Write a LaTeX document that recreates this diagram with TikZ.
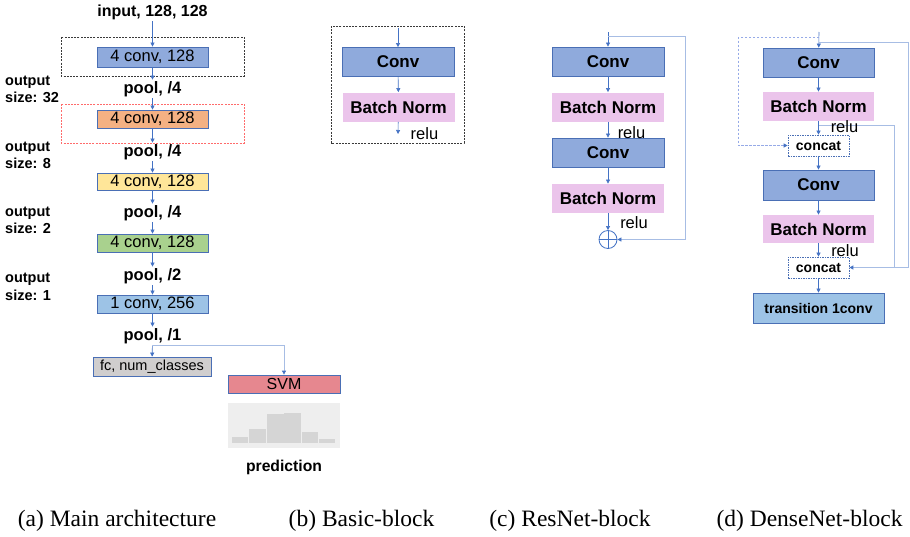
\documentclass[tikz,border=0pt]{standalone}
\usepackage{fontspec}
\setmainfont{Liberation Serif}
\newfontfamily\arialf{Liberation Sans}
\usetikzlibrary{arrows.meta,calc}
\definecolor{lb}{HTML}{4472C4}
\definecolor{lsk}{HTML}{A7BDE4}
\definecolor{bd}{HTML}{4A6FB5}
\definecolor{cblue}{HTML}{8FAADC}
\definecolor{corange}{HTML}{F4B183}
\definecolor{cyellow}{HTML}{FFE699}
\definecolor{cgreen}{HTML}{A9D18E}
\definecolor{clblue}{HTML}{9DC3E6}
\definecolor{cgray}{HTML}{D0CECE}
\definecolor{csvm}{HTML}{E6878F}
\definecolor{cpink}{HTML}{EBC4EB}
\definecolor{cdash}{HTML}{3A3A3A}
\definecolor{cred}{HTML}{FF6B6B}
\newcommand\fsz[2]{\fontsize{#1}{#2}\selectfont}
\tikzset{
  ln/.style={draw=lb, line width=0.6pt},
  arr/.style={ln, -{Triangle[length=4pt,width=4pt]}},
  skp/.style={draw=lsk, line width=0.8pt},
  skarr/.style={skp, -{Triangle[length=4pt,width=4pt,color=lb]}},
  blk/.style={draw=bd, line width=0.8pt, inner sep=0pt, font=\arialf\fsz{16.5}{18}, text=black},
  bigblk/.style={blk, minimum width=112pt, minimum height=29pt, font=\arialf\bfseries\fsz{17}{19}},
  convbox/.style={bigblk, fill=cblue},
  bnbox/.style={bigblk, fill=cpink, draw=none},
  catbox/.style={draw=bd, dashed, dash pattern=on 1.5pt off 1pt, line width=0.7pt, fill=white, minimum width=61pt, minimum height=21pt, inner sep=0pt, font=\arialf\bfseries\fsz{14}{16}},
  lbl/.style={font=\arialf\bfseries\fsz{16.5}{18}, inner sep=1.5pt},
  relulbl/.style={font=\arialf\fsz{16.5}{18}, inner sep=0pt},
  outlbl/.style={font=\arialf\bfseries\fsz{14.5}{17.5}, align=left, anchor=west, inner sep=0pt},
  captxt/.style={font=\fsz{23.5}{25}, inner sep=0pt},
  mainbox/.style={blk, minimum width=111pt, minimum height=18pt}
}
\begin{document}
\begin{tikzpicture}[x=1pt,y=-1pt]
\path[use as bounding box, fill=white] (0,0) rectangle (910,536);

% ---------------- (a) main architecture
\draw[cdash, dashed, dash pattern=on 2pt off 1.2pt, line width=0.6pt] (61,37) rectangle (244,76);
\draw[cred, dashed, dash pattern=on 2pt off 1.2pt, line width=0.6pt] (61,104) rectangle (244,143);

\node[lbl, font=\arialf\bfseries\fsz{16}{18}] (in) at (152.5,12) {input, 128, 128};
\node[mainbox, fill=cblue, minimum height=20pt] (c1) at (152.5,57) {4 conv, 128};
\node[lbl] (p1) at (152.5,89) {pool, /4};
\node[mainbox, fill=corange] (c2) at (152.5,119) {4 conv, 128};
\node[lbl] (p2) at (152.5,152) {pool, /4};
\node[mainbox, fill=cyellow, minimum height=17pt] (c3) at (152.5,181.5) {4 conv, 128};
\node[lbl] (p3) at (152.5,213) {pool, /4};
\node[mainbox, fill=cgreen] (c4) at (152.5,243) {4 conv, 128};
\node[lbl] (p4) at (152.5,276) {pool, /2};
\node[mainbox, fill=clblue] (c5) at (152.5,304) {1 conv, 256};
\node[lbl] (p5) at (152.5,336) {pool, /1};
\node[mainbox, fill=cgray, minimum width=118pt, minimum height=19pt, font=\arialf\fsz{14.5}{16}] (fc) at (152,366.5) {fc, num\_classes};
\node[mainbox, fill=csvm, minimum width=112pt, font=\arialf\fsz{16}{18}] (svm) at (284,384) {SVM};

\node[outlbl] (o1) at (5,89.5) {output\\size: 32};
\node[outlbl] (o2) at (5,155.5) {output\\size: 8};
\node[outlbl] (o3) at (5,220.5) {output\\size: 2};
\node[outlbl] (o4) at (5,287) {output\\size: 1};

\draw[arr] (in) -- (c1);
\draw[arr] (c1) -- (p1);
\draw[arr] (p1) -- (c2);
\draw[arr] (c2) -- (p2);
\draw[arr] (p2) -- (c3);
\draw[arr] (c3) -- (p3);
\draw[arr] (p3) -- (c4);
\draw[arr] (c4) -- (p4);
\draw[arr] (p4) -- (c5);
\draw[arr] (c5) -- (p5);
\draw[arr] (p5) -- (fc);
\draw[skp, -{Triangle[length=4pt,width=4pt,color=lb]}] (p5.south) -| (svm.north);

% histogram
\fill[gray!13] (228,403) rectangle (340,448);
\fill[gray!33] (232.3,437.3) rectangle (248.3,442.7);
\fill[gray!33] (249.3,429.3) rectangle (265.7,442.7);
\fill[gray!33] (266.7,414.3) rectangle (283.7,442.7);
\fill[gray!33] (284.3,413.3) rectangle (300.7,442.7);
\fill[gray!33] (301.7,432.3) rectangle (317.7,442.7);
\fill[gray!33] (319,438.7) rectangle (335.3,442.7);
\node[lbl, font=\arialf\bfseries\fsz{15.7}{18}] (pred) at (284,467) {prediction};

% ---------------- (b) basic block
\draw[cdash, dashed, dash pattern=on 2pt off 1.2pt, line width=0.6pt] (331,26) rectangle (464,143);
\coordinate (bin) at (398,28);
\node[convbox] (bconv) at (398,62) {Conv};
\node[bnbox] (bbn) at (398.5,107) {Batch Norm};
\coordinate (bout) at (398,134);
\node[relulbl] (brelu) at (424.5,134) {relu};
\draw[arr] (bin) -- (bconv);
\draw[arr] (bconv) -- (bbn);
\draw[arr] (bbn) -- (bout);

% ---------------- (c) ResNet block
\coordinate (rin) at (608,32);
\coordinate (rsk) at (608,36);
\node[convbox] (rc1) at (608,61.5) {Conv};
\node[bnbox] (rb1) at (608,107) {Batch Norm};
\node[convbox] (rc2) at (608,152.5) {Conv};
\node[relulbl] (rr1) at (631.5,133) {relu};
\node[bnbox] (rb2) at (608,198.5) {Batch Norm};
\node[relulbl] (rr2) at (634,223) {relu};
\node[circle, draw=lb, line width=0.8pt, minimum size=18pt, inner sep=0pt] (plus) at (608,239.5) {};
\draw[lb, line width=0.8pt] (plus.north) -- (plus.south) (plus.west) -- (plus.east);
\draw[arr] (rin) -- (rc1);
\draw[arr] (rc1) -- (rb1);
\draw[arr] (rb1) -- (rc2);
\draw[arr] (rc2) -- (rb2);
\draw[arr] (rb2) -- (plus);
\draw[skarr] (rsk) -- (685.5,36) |- (plus.east);

% ---------------- (d) DenseNet block
\coordinate (din) at (819,32);
\coordinate (dsk) at (819,42.5);
\coordinate (ddash) at (819,37.5);
\coordinate (dsk2) at (819,125);
\node[convbox, minimum width=111pt] (dc1) at (818.5,62.5) {Conv};
\node[bnbox, minimum width=111pt] (db1) at (818.5,106.5) {Batch Norm};
\node[catbox] (cat1) at (818.5,145.5) {concat};
\node[convbox, minimum width=111pt, minimum height=30pt] (dc2) at (818.5,185) {Conv};
\node[bnbox, minimum width=111pt, minimum height=28pt] (db2) at (818.5,229) {Batch Norm};
\node[catbox] (cat2) at (818.5,267.5) {concat};
\node[blk, fill=clblue, minimum width=131pt, minimum height=30pt, font=\arialf\bfseries\fsz{14}{16}] (tr) at (818.5,308) {transition 1conv};
\draw[arr] (din) -- (dc1);
\draw[arr] (dc1) -- (db1);
\draw[arr] (db1) -- (cat1);
\draw[arr] (cat1) -- (dc2);
\draw[arr] (dc2) -- (db2);
\draw[arr] (db2) -- (cat2);
\draw[arr] (cat2) -- (tr);
\draw[skarr] (dsk) -- (908,42.5) |- (cat2.east);
\draw[skp] (dsk2) -- (894,125) -- (894,267.5);
\draw[draw=lsk!90!blue, line width=0.7pt, dashed, dash pattern=on 2.5pt off 1.5pt, -{Triangle[length=4pt,width=4pt,color=lb]}] (ddash) -- (738,37.5) |- (cat1.west);
\node[relulbl] (dr1) at (844.5,127) {relu};
\node[relulbl] (dr2) at (845,251) {relu};

% ---------------- captions
\node[captxt] (capa) at (117,521) {(a) Main architecture};
\node[captxt] (capb) at (361.5,521) {(b) Basic-block};
\node[captxt] (capc) at (570,521) {(c) ResNet-block};
\node[captxt] (capd) at (809.5,521) {(d) DenseNet-block};
\end{tikzpicture}
\end{document}
